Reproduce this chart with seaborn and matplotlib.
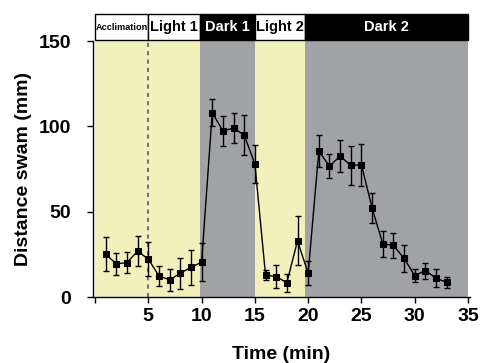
import matplotlib
matplotlib.use("Agg")
import matplotlib.pyplot as plt
import matplotlib.transforms as mtransforms
from matplotlib.patches import Rectangle
import numpy as np
import pandas as pd
import seaborn as sns

# ---- data ----
time_min = list(range(1, 34))
distance = [25.1, 19.4, 20.2, 26.9, 22.2, 12.4, 10.0, 13.9, 17.4, 20.4,
            108.0, 97.4, 99.0, 94.9, 78.0,
            12.9, 11.9, 8.4, 32.9, 13.9,
            85.5, 76.7, 82.6, 77.1, 77.5, 52.1, 31.2, 30.2, 22.7, 12.5, 15.5, 11.0, 8.6]
sem = [10.0, 6.5, 6.3, 8.6, 10.0, 5.7, 6.5, 9.2, 10.4, 11.3,
       7.8, 8.6, 8.8, 11.7, 11.0,
       3.0, 6.8, 5.2, 14.3, 7.0,
       9.4, 7.0, 9.3, 11.2, 12.3, 8.8, 7.7, 7.6, 8.0, 3.9, 4.7, 5.4, 3.2]

phase_names = ["Acclimation", "Light 1", "Dark 1", "Light 2", "Dark 2"]
phase_start = [0, 5, 9.85, 15, 19.75]
phase_end = [5, 9.85, 15, 19.75, 35]
phase_dark = [False, False, True, False, True]

xtick_vals = [0, 5, 10, 15, 20, 25, 30, 35]
xtick_labels = ["", "5", "10", "15", "20", "25", "30", "35"]
ytick_vals = [0, 50, 100, 150]

df = pd.DataFrame({"time": time_min, "distance": distance, "sem": sem})

# ---- style ----
sns.set_style("ticks")
plt.rcParams["font.family"] = ["Liberation Sans", "DejaVu Sans"]
plt.rcParams["font.weight"] = "bold"
for key in ["text.color", "axes.labelcolor", "xtick.color", "ytick.color", "axes.edgecolor"]:
    plt.rcParams[key] = "black"

yellow = "#F3F0BC"
grey = "#A1A2A6"

fig = plt.figure(figsize=(4.8, 3.63), dpi=100)
ax = fig.add_axes([0.1935, 0.1818, 0.786, 0.705])

# background phases
for s, e, d in zip(phase_start, phase_end, phase_dark):
    ax.axvspan(s, e, ymin=0, ymax=1, color=grey if d else yellow, lw=0, zorder=0)

# dashed line at end of acclimation
ax.plot([5, 5], [0, 150], ls=(0, (2, 2)), color="#777777", lw=1.5, zorder=1)

# error bars and line
ax.errorbar(df["time"], df["distance"], yerr=df["sem"], fmt="none",
            ecolor="black", elinewidth=1, capsize=2.5, capthick=1, zorder=3)
sns.lineplot(data=df, x="time", y="distance", ax=ax, color="black", lw=1,
             marker="s", markersize=5, markeredgecolor="black", zorder=4)

ax.set_xlim(-0.2, 35.2)
ax.set_ylim(0, 150)
ax.set_xticks(xtick_vals)
ax.set_xticklabels(xtick_labels)
ax.set_yticks(ytick_vals)
ax.tick_params(axis="both", labelsize=14, length=4, width=1, colors="black")
ax.tick_params(axis="x", pad=4)
ax.tick_params(axis="y", pad=11.5)
for lab in ax.get_xticklabels() + ax.get_yticklabels():
    lab.set_fontweight("bold")
sns.despine(ax=ax)
ax.spines["left"].set_linewidth(1)
ax.spines["bottom"].set_linewidth(1)

ax.set_xlabel("Time (min)", fontsize=14, fontweight="bold", labelpad=15, color="black")
ax.set_ylabel("Distance swam (mm)", fontsize=14, fontweight="bold", labelpad=5, color="black")

# header boxes
trans = mtransforms.blended_transform_factory(ax.transData, ax.transAxes)
y0, y1 = 1.004, 1.105
for name, s, e, d in zip(phase_names, phase_start, phase_end, phase_dark):
    ax.add_patch(Rectangle((s, y0), e - s, y1 - y0, transform=trans,
                           facecolor="black" if d else "white",
                           edgecolor="black", lw=1, clip_on=False, zorder=5))
    fs = 6.6 if name == "Acclimation" else 10.5
    ax.text((s + e) / 2, (y0 + y1) / 2, name, transform=trans, ha="center", va="center",
            fontsize=fs, fontweight="bold", color="white" if d else "black",
            zorder=6, clip_on=False)

if ax.get_legend() is not None:
    ax.get_legend().remove()

fig.savefig("out.png", dpi=100)
